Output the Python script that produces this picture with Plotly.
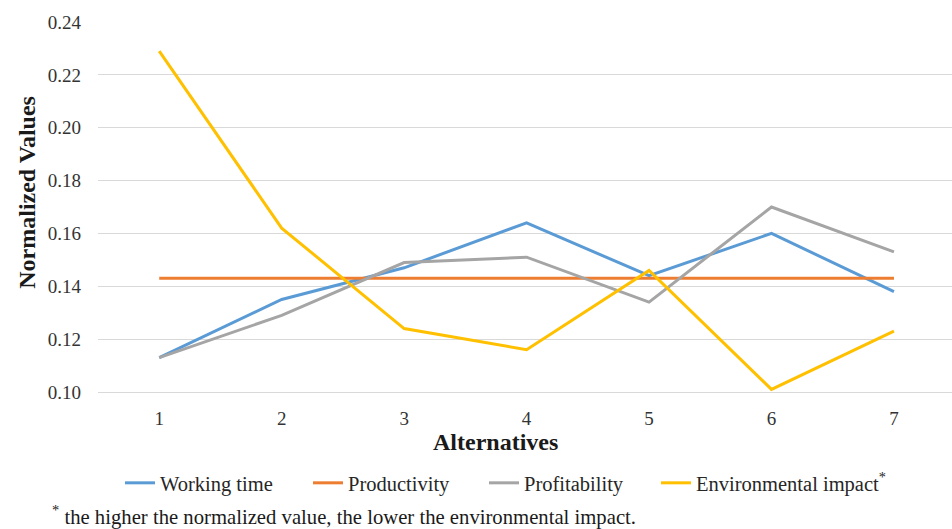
import plotly.graph_objects as go

# Alternatives on the category axis
alternatives = [1, 2, 3, 4, 5, 6, 7]

# Normalized values per criterion
working_time = [0.113, 0.135, 0.147, 0.164, 0.144, 0.160, 0.138]
productivity = [0.143, 0.143, 0.143, 0.143, 0.143, 0.143, 0.143]
profitability = [0.113, 0.129, 0.149, 0.151, 0.134, 0.170, 0.153]
environmental_impact = [0.229, 0.162, 0.124, 0.116, 0.146, 0.101, 0.123]

y_ticks = [0.10, 0.12, 0.14, 0.16, 0.18, 0.20, 0.22, 0.24]
y_tick_text = [f"{v:.2f}" for v in y_ticks]

series = [
    ("Working time", working_time, "#5B9BD5", "legend"),
    ("Productivity", productivity, "#ED7D31", "legend2"),
    ("Profitability", profitability, "#A5A5A5", "legend3"),
    ("Environmental impact<sup>*</sup>", environmental_impact, "#FFC000", "legend4"),
]

W, H = 952, 529
FONT = "Liberation Serif"

fig = go.Figure()
for name, values, color, leg in series:
    fig.add_trace(go.Scatter(
        x=alternatives, y=values, name=name, mode="lines",
        line=dict(color=color, width=3),
        legend=leg,
    ))

# one legend per entry so each can sit at its own horizontal position
legend_x_px = [120, 308, 484, 656]
legend_common = dict(
    orientation="h", xref="container", yref="container",
    xanchor="left", yanchor="middle", y=(H - 483) / H,
    bgcolor="rgba(0,0,0,0)", borderwidth=0,
    font=dict(family=FONT, size=20.5, color="#262626"),
)
legends = {}
for key, px in zip(["legend", "legend2", "legend3", "legend4"], legend_x_px):
    legends[key] = dict(legend_common, x=px / W)

fig.update_layout(
    width=W, height=H,
    margin=dict(l=98, r=0, t=22, b=136.5, pad=0),
    paper_bgcolor="white", plot_bgcolor="white",
    font=dict(family=FONT, color="#404040"),
    showlegend=True,
    xaxis=dict(
        range=[0.5, 7.474], tickmode="array", tickvals=alternatives,
        ticktext=[str(a) for a in alternatives],
        showgrid=False, zeroline=False,
        showline=True, linecolor="#D9D9D9", linewidth=1,
        ticks="", ticklabelstandoff=9,
        tickfont=dict(family=FONT, size=19, color="#333333"),
    ),
    yaxis=dict(
        range=[0.10, 0.24], tickmode="array", tickvals=y_ticks,
        ticktext=y_tick_text,
        showgrid=True, gridcolor="#D9D9D9", gridwidth=1,
        zeroline=False, showline=False, ticks="", ticklabelstandoff=16,
        tickfont=dict(family=FONT, size=19, color="#333333"),
    ),
    annotations=[
        dict(text="<b>Alternatives</b>", xref="paper", yref="paper",
             x=(495 - 98) / 854, y=-(443 - 392.5) / 370.5,
             xanchor="center", yanchor="middle", showarrow=False,
             font=dict(family=FONT, size=24, color="#1a1a1a")),
        dict(text="<b>Normalized Values</b>", xref="paper", yref="paper",
             x=-(98 - 27) / 854, y=(392.5 - 193) / 370.5, textangle=-90,
             xanchor="center", yanchor="middle", showarrow=False,
             font=dict(family=FONT, size=24, color="#1a1a1a")),
        dict(text="<sup>*</sup> the higher the normalized value, the lower the environmental impact.",
             xref="paper", yref="paper",
             x=-(98 - 50) / 854, y=-(516 - 392.5) / 370.5,
             xanchor="left", yanchor="middle", showarrow=False,
             font=dict(family=FONT, size=20.7, color="#1a1a1a")),
    ],
    **legends,
)

fig.write_html("out.html")
